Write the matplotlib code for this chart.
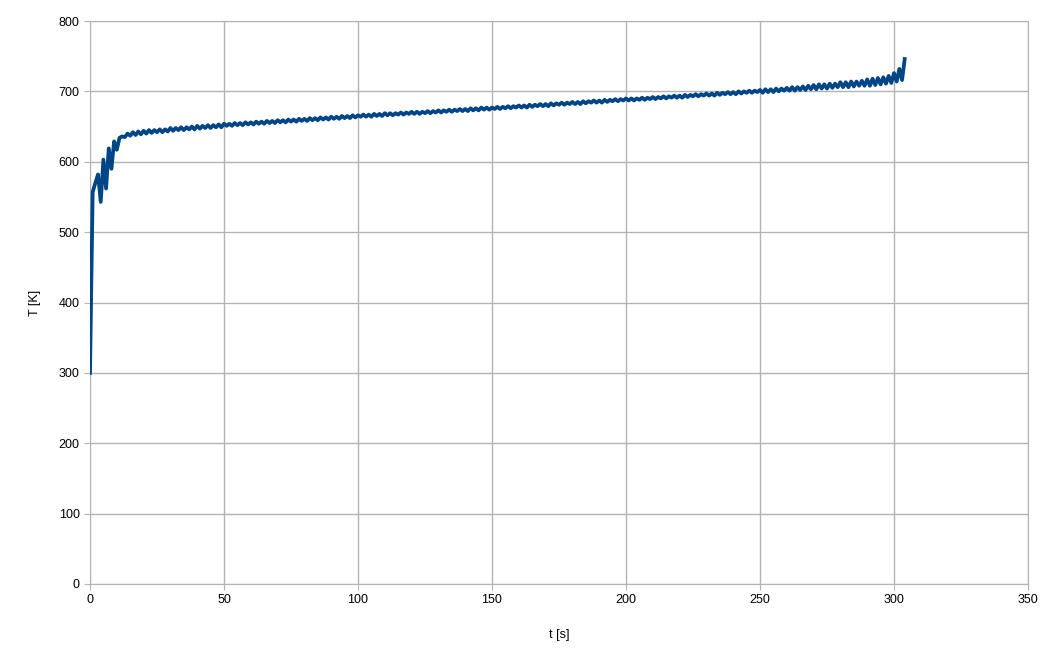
import matplotlib
matplotlib.use('Agg')
import matplotlib.pyplot as plt

# Temperature vs time, 1 s steps
temp_k = [
    300, 557, 570, 582, 543, 603, 562, 619, 590, 629,
    617, 634, 636, 635, 640, 637, 642, 638, 643, 639,
    644, 640, 645, 641, 645, 642, 646, 642, 646, 643,
    648, 644, 648, 645, 649, 645, 649, 646, 650, 646,
    651, 647, 651, 648, 652, 648, 652, 649, 653, 649,
    654, 651, 654, 651, 655, 652, 655, 652, 656, 653,
    656, 653, 657, 654, 657, 654, 658, 655, 658, 655,
    659, 656, 659, 656, 660, 657, 660, 657, 661, 658,
    661, 658, 662, 659, 662, 659, 663, 660, 663, 660,
    664, 661, 664, 661, 665, 662, 665, 662, 666, 663,
    666, 664, 667, 664, 667, 664, 668, 665, 668, 665,
    669, 666, 669, 666, 669, 667, 670, 667, 670, 668,
    671, 668, 671, 668, 671, 669, 672, 669, 672, 670,
    673, 670, 673, 671, 674, 671, 674, 672, 675, 672,
    675, 672, 676, 673, 676, 673, 677, 674, 677, 674,
    677, 675, 678, 675, 678, 676, 679, 676, 679, 677,
    680, 677, 680, 677, 681, 678, 681, 679, 682, 679,
    682, 679, 683, 680, 683, 681, 684, 681, 684, 682,
    685, 682, 685, 682, 686, 683, 686, 684, 687, 684,
    687, 684, 688, 685, 688, 686, 689, 686, 689, 687,
    690, 687, 690, 687, 690, 688, 691, 688, 691, 689,
    692, 689, 692, 690, 693, 690, 693, 691, 694, 691,
    694, 691, 695, 692, 695, 693, 696, 693, 696, 694,
    697, 694, 697, 694, 698, 695, 698, 696, 699, 696,
    699, 696, 700, 697, 700, 698, 701, 698, 701, 699,
    702, 698, 703, 699, 703, 699, 704, 700, 704, 701,
    705, 701, 706, 701, 706, 702, 707, 702, 708, 703,
    709, 703, 710, 704, 710, 704, 711, 705, 711, 706,
    713, 706, 713, 706, 714, 707, 714, 708, 715, 708,
    717, 708, 718, 709, 719, 710, 720, 711, 722, 712,
    726, 714, 732, 716, 746,
]
time_s = list(range(len(temp_k)))

x_ticks = [0, 50, 100, 150, 200, 250, 300, 350]
y_ticks = [0, 100, 200, 300, 400, 500, 600, 700, 800]

grid_col = '#b3b3b3'
plt.rcParams['font.family'] = ['Liberation Sans', 'DejaVu Sans']

fig = plt.figure(figsize=(10.6, 6.6), dpi=100)
ax = fig.add_axes([90/1060, 76/660, 938/1060, 563/660])

ax.plot(time_s, temp_k, color='#004586', lw=2.7, solid_joinstyle='round', zorder=3)

ax.set_xlim(0, 350)
ax.set_ylim(0, 800)
ax.set_xticks(x_ticks)
ax.set_yticks(y_ticks)
ax.grid(True, color=grid_col, lw=1)
for s in ax.spines.values():
    s.set_color(grid_col)
ax.tick_params(colors=grid_col, labelcolor='black', length=4, labelsize=9)

ax.set_xlabel('t [s]', fontsize=9, labelpad=16)
ax.set_ylabel('T [K]', fontsize=9, labelpad=13)

fig.savefig('out.png', dpi=100)
